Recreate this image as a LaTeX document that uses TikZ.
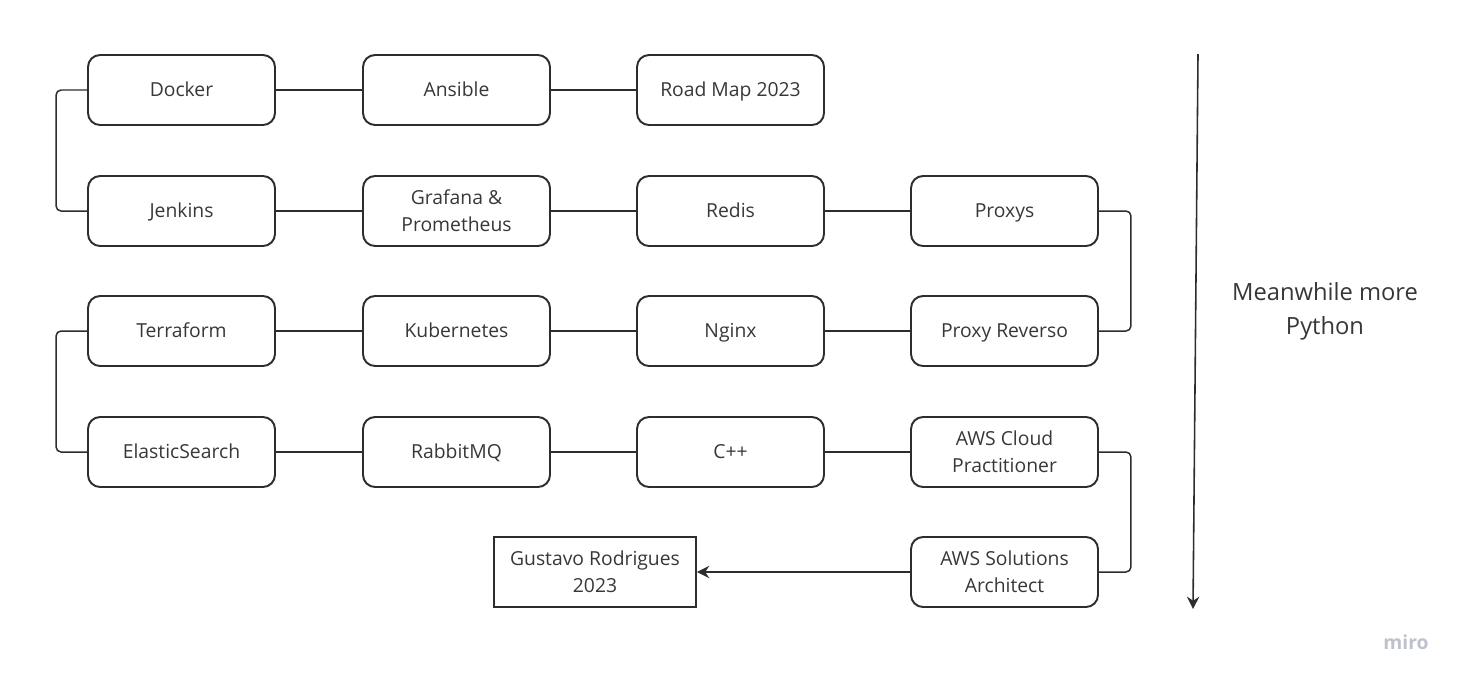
\documentclass[tikz,border=0pt]{standalone}
\usepackage{fontspec}
\setmainfont{Open Sans}
\definecolor{inkgray}{RGB}{45, 45, 45}
\definecolor{textgray}{RGB}{55, 55, 55}
\definecolor{mirogray}{RGB}{190, 192, 204}
\usetikzlibrary{arrows.meta, positioning}
\tikzset{
  boxbase/.style={draw=inkgray, line width=1.1pt, rounded corners=0.24cm, minimum width=3.74cm, minimum height=1.4cm, align=center, text=textgray, font=\fontsize{11}{15.4}\selectfont, inner sep=0pt},
  stepbox/.style={boxbase, text height=10pt, text depth=2.5pt},
  tallbox/.style={boxbase},
  goalbox/.style={boxbase, rounded corners=0pt, minimum width=4.04cm},
  link/.style={draw=inkgray, line width=0.85pt, rounded corners=0.1cm},
}

\begin{document}
\begin{tikzpicture}[x=0.02cm, y=-0.02cm]
  \useasboundingbox (0, 0) rectangle (1463, 683);

  % Row 1
  \node[stepbox] (docker) at (181.5, 90) {Docker};
  \node[stepbox] (ansible) at (456.5, 90) {Ansible};
  \node[stepbox] (roadmap) at (730.5, 90) {Road Map 2023};

  % Row 2
  \node[stepbox] (jenkins) at (181.5, 211) {Jenkins};
  \node[tallbox] (grafana) at (456.5, 211) {Grafana \&\\Prometheus};
  \node[stepbox] (redis) at (730.5, 211) {Redis};
  \node[stepbox] (proxys) at (1004.5, 211) {Proxys};

  % Row 3
  \node[stepbox] (terraform) at (181.5, 331) {Terraform};
  \node[stepbox] (kubernetes) at (456.5, 331) {Kubernetes};
  \node[stepbox] (nginx) at (730.5, 331) {Nginx};
  \node[stepbox] (reverse) at (1004.5, 331) {Proxy Reverso};

  % Row 4
  \node[stepbox] (elastic) at (181.5, 452) {ElasticSearch};
  \node[stepbox] (rabbit) at (456.5, 452) {RabbitMQ};
  \node[stepbox] (cpp) at (730.5, 452) {C++};
  \node[tallbox] (awscloud) at (1004.5, 452) {AWS Cloud\\Practitioner};

  % Row 5
  \node[tallbox] (awsarch) at (1004.5, 572) {AWS Solutions\\Architect};
  \node[goalbox] (goal) at (595, 572) {Gustavo Rodrigues\\2023};

  % Links along the rows
  \draw[link] (docker) -- (ansible);
  \draw[link] (ansible) -- (roadmap);
  \draw[link] (jenkins) -- (grafana);
  \draw[link] (grafana) -- (redis);
  \draw[link] (redis) -- (proxys);
  \draw[link] (reverse) -- (nginx);
  \draw[link] (nginx) -- (kubernetes);
  \draw[link] (kubernetes) -- (terraform);
  \draw[link] (elastic) -- (rabbit);
  \draw[link] (rabbit) -- (cpp);
  \draw[link] (cpp) -- (awscloud);

  % Turns at the ends of the rows
  \draw[link] (docker.west) -- ++(-31, 0) |- (jenkins.west);
  \draw[link] (proxys.east) -- ++(32, 0) |- (reverse.east);
  \draw[link] (terraform.west) -- ++(-31, 0) |- (elastic.west);
  \draw[link] (awscloud.east) -- ++(32, 0) |- (awsarch.east);

  % Final arrow
  \draw[link, -{Stealth[length=7pt, width=7pt]}] (awsarch) -- (goal);

  % Time arrow
  \coordinate (timetop) at (1198, 54);
  \coordinate (timeend) at (1193, 609);
  \draw[draw=inkgray, line width=0.9pt, -{Stealth[length=7pt, width=7pt]}] (timetop) -- (timeend);
  \node[text=textgray, align=center, font=\fontsize{13.5}{19.3}\selectfont] (python) at (1325, 311) {Meanwhile more\\Python};

  % Watermark
  \node[text=mirogray, font=\fontsize{11}{13}\selectfont\bfseries] (miro) at (1406, 642) {miro};
\end{tikzpicture}
\end{document}
